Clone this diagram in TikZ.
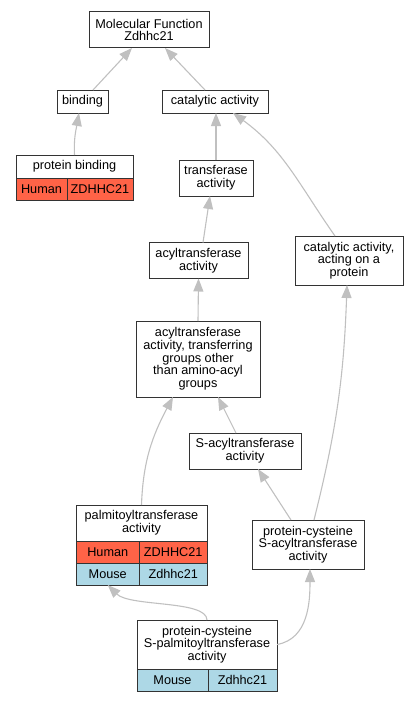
\documentclass[tikz,border=0pt]{standalone}
\usepackage{fontspec}
\setmainfont{Liberation Sans}
\usetikzlibrary{positioning}
\usetikzlibrary{arrows.meta}
\definecolor{hum}{HTML}{FF6347}
\definecolor{mou}{HTML}{ADD8E6}
\definecolor{edg}{HTML}{C0C0C0}
\newcommand{\gofont}{\fontsize{12.7}{12.7}\selectfont}
\tikzset{term/.style={draw=black!80, line width=1pt, fill=white, align=center, inner sep=0pt, outer sep=0pt, font=\gofont}}
\tikzset{cell/.style={term, minimum height=22pt}}
\tikzset{isa/.style={draw=edg, line width=1.1pt, -{Triangle[length=13pt,width=10pt]}}}

\begin{document}
\begin{tikzpicture}[x=1pt,y=1pt]
        \useasboundingbox (0,0) rectangle (417,-701);

        \node[term, minimum width=120pt, minimum height=36pt] (mf) at (149,-30) {Molecular Function\\Zdhhc21};
        \node[term, minimum width=51pt, minimum height=23pt] (bind) at (82.5,-101.5) {binding};
        \node[term, minimum width=106pt, minimum height=23pt] (cat) at (215,-101.5) {catalytic activity};

        \node[term, minimum width=117pt, minimum height=23pt] (pb) at (74.5,-166.5) {protein binding};
        \node[cell, fill=hum, minimum width=51pt, below right=0pt and 0pt of pb.south west] (pbH) {Human};
        \node[cell, fill=hum, minimum width=66pt, right=0pt of pbH] (pbG) {ZDHHC21};

        \node[term, minimum width=74pt, minimum height=36pt] (trans) at (216,-178) {transferase\\activity};
        \node[term, minimum width=99pt, minimum height=36pt] (acyl) at (198.5,-260.5) {acyltransferase\\activity};
        \node[term, minimum width=108pt, minimum height=49pt] (catact) at (349,-260.5) {catalytic activity,\\acting on a\\protein};
        \node[term, minimum width=124pt, minimum height=76pt] (acyltr) at (198,-359) {acyltransferase\\activity, transferring\\groups other\\than amino-acyl\\groups};
        \node[term, minimum width=112pt, minimum height=36pt] (sacyl) at (245,-451) {S-acyltransferase\\activity};

        \node[term, minimum width=131pt, minimum height=36pt] (palm) at (141.5,-523) {palmitoyltransferase\\activity};
        \node[cell, fill=hum, minimum width=63.5pt, below right=0pt and 0pt of palm.south west] (palmH) {Human};
        \node[cell, fill=hum, minimum width=67.5pt, right=0pt of palmH] (palmHG) {ZDHHC21};
        \node[cell, fill=mou, minimum width=63.5pt, below=0pt of palmH] (palmM) {Mouse};
        \node[cell, fill=mou, minimum width=67.5pt, right=0pt of palmM] (palmMG) {Zdhhc21};

        \node[term, minimum width=112pt, minimum height=49pt] (pcsacyl) at (308,-544.5) {protein-cysteine\\S-acyltransferase\\activity};

        \node[term, minimum width=140pt, minimum height=49pt] (spalm) at (207,-644.5) {protein-cysteine\\S-palmitoyltransferase\\activity};
        \node[cell, fill=mou, minimum width=71pt, below right=0pt and 0pt of spalm.south west] (spalmM) {Mouse};
        \node[cell, fill=mou, minimum width=69pt, right=0pt of spalmM] (spalmMG) {Zdhhc21};

        \draw[isa] ([xshift=10.5pt]bind.north) -- ([xshift=-17pt]mf.south);
        \draw[isa] ([xshift=-10pt]cat.north) -- ([xshift=16pt]mf.south);
        \draw[isa] (pb.north) to[out=93,in=-100] ([xshift=-3.5pt]bind.south);
        \draw[isa] (trans.north) -- ([xshift=1pt]cat.south);
        \draw[isa] ([xshift=-14pt]catact.north) to[out=125,in=-36] ([xshift=18pt]cat.south);
        \draw[isa] ([xshift=4.5pt]acyl.north) -- ([xshift=-6pt]trans.south);
        \draw[isa] (acyltr.north) -- (acyl.south);
        \draw[isa] ([xshift=-9pt]sacyl.north) -- ([xshift=20pt]acyltr.south);
        \draw[isa] (palm.north) to[out=88,in=-118] ([xshift=-25pt]acyltr.south);
        \draw[isa] ([xshift=-17pt]pcsacyl.north) -- ([xshift=13pt]sacyl.south);
        \draw[isa] ([xshift=6pt]pcsacyl.north) to[out=76,in=-92] ([xshift=-2pt]catact.south);
        \draw[isa] (spalm.north) .. controls +(0,20) and +(22,-22) .. (palmM.south);
        \draw[isa] (spalm.east) to[out=10,in=-90] ([xshift=2pt]pcsacyl.south);
\end{tikzpicture}
\end{document}
